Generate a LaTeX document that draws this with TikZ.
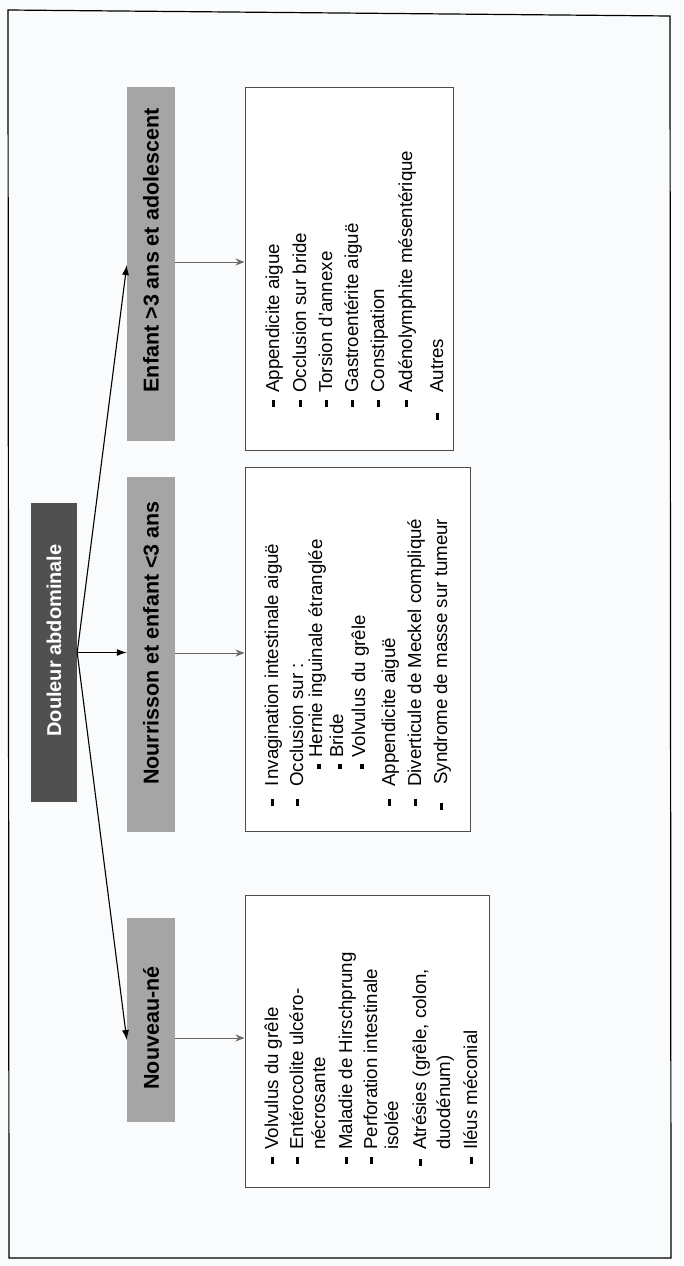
\documentclass[tikz,border=0pt]{standalone}
\usepackage{fontspec}
\setmainfont{Liberation Sans}
\usetikzlibrary{arrows.meta}
\definecolor{rootgray}{HTML}{505050}
\definecolor{catgray}{HTML}{A5A5A5}
\definecolor{bgcol}{HTML}{F9FBFC}
\newcommand{\mybul}[2]{\fill ({#1-7},{#2-3.5}) rectangle ({#1-4},{#2+3.5});}
\newcommand{\mysub}[2]{\fill ({#1-5.5},{#2-2.5}) rectangle ({#1-1.5},{#2+2.5});}
\begin{document}
\begin{tikzpicture}[x=1pt,y=-1pt,
  itm/.style={rotate=90,anchor=base west,inner sep=0pt,font=\fontsize{18.7}{22}\selectfont},
  rootbox/.style={fill=rootgray,text=white,inner sep=0pt,font=\bfseries\fontsize{20}{24}\selectfont},
  catbox/.style={fill=catgray,inner sep=0pt,minimum width=48pt,font=\bfseries\fontsize{21.5}{26}\selectfont},
  listbox/.style={draw=black!70,line width=1pt,fill=white,inner sep=0pt},
  arr/.style={draw=black,line width=1.1pt,-{Latex[length=10pt,width=7pt]}},
  arrg/.style={draw=black!60,line width=1pt,-{Stealth[length=9pt,width=7pt,fill=black!45]}}]
\useasboundingbox[fill=bgcol] (0,0) rectangle (683,1266);
% outer frame
\draw[line width=1.2pt] (8,10) -- (670,16) -- (671,1258) -- (9,1258) -- cycle;

% root
\node[rootbox,minimum width=46pt,minimum height=299pt] (R) at (54,652.5)
  {\rotatebox{90}{\hspace*{24pt}Douleur abdominale}};

% categories
\node[catbox,minimum height=354pt] (C3) at (151,264)
  {\rotatebox{90}{\hspace*{27pt}Enfant >3 ans et adolescent}};
\node[catbox,minimum height=355pt] (C2) at (151,654.5)
  {\rotatebox{90}{\hspace*{23pt}Nourrisson et enfant <3 ans}};
\node[catbox,minimum height=204pt] (C1) at (151,1020)
  {\rotatebox{90}{Nouveau-né\hspace*{16pt}}};

% list boxes
\node[listbox,minimum width=208pt,minimum height=363pt] (L3) at (349,268.5) {};
\node[listbox,minimum width=225pt,minimum height=364pt] (L2) at (357.5,649) {};
\node[listbox,minimum width=244pt,minimum height=292pt] (L1) at (367,1041) {};

% connectors from root
\coordinate (T3) at (125,265);
\coordinate (T1) at (125,1040);
\draw[arr] (R.east) -- (C3.west |- T3);
\draw[arr] (R.east) -- (C2.west |- R.east);
\draw[arr] (R.east) -- (C1.west |- T1);

% connectors to lists
\coordinate (A3) at (0,262);
\coordinate (A2) at (0,653);
\coordinate (A1) at (0,1038);
\draw[arrg] (C3.east |- A3) -- (L3.west |- A3);
\draw[arrg] (C2.east |- A2) -- (L2.west |- A2);
\draw[arrg] (C1.east |- A1) -- (L1.west |- A1);

% Enfant list
\node[itm] (e1) at (279,393) {Appendicite aigue};
\node[itm] (e2) at (306,393) {Occlusion sur bride};
\node[itm] (e3) at (332,393) {Torsion d'annexe};
\node[itm] (e4) at (358,393) {Gastroentérite aiguë};
\node[itm] (e5) at (384,393) {Constipation};
\node[itm] (e6) at (412,393) {Adénolymphite mésentérique};
\node[itm] (e7) at (443,393) {Autres};
\mybul{279}{403}\mybul{306}{403}\mybul{332}{403}\mybul{358}{403}
\mybul{384}{403}\mybul{412}{403}\mybul{443}{416}

% Nourrisson list
\node[itm] (n1) at (278,787) {I\kern2pt nvagination intestinale aiguë};
\node[itm] (n2) at (303,787) {Occlusion sur :};
\node[itm] (n3) at (322,758) {Hernie inguinale étranglée};
\node[itm] (n4) at (343,758) {Bride};
\node[itm] (n5) at (365,758) {Volvulus du grêle};
\node[itm] (n6) at (395,787) {Appendicite aiguë};
\node[itm] (n7) at (421,787) {Diverticule de Meckel compliqué};
\node[itm] (n8) at (447,785) {Syndrome de masse sur tumeur};
\mybul{278}{802}\mybul{303}{802}\mybul{395}{802}\mybul{421}{802}\mybul{447}{806}
\mysub{322}{766}\mysub{343}{766}\mysub{365}{766}

% Nouveau-ne list
\node[itm] (b1) at (278,1150) {Volvulus du grêle};
\node[itm] (b2) at (303,1150) {Entérocolite ulcéro-};
\node[itm] (b3) at (325,1150) {nécrosante};
\node[itm] (b4) at (352,1150) {Maladie de Hirschprung};
\node[itm] (b5) at (377,1150) {Perforation intestinale};
\node[itm] (b6) at (398,1150) {isolée};
\node[itm] (b7) at (426,1150) {Atrésies (grêle, colon,};
\node[itm] (b8) at (450,1150) {duodénum)};
\node[itm] (b9) at (477,1150) {Iléus méconial};
\mybul{278}{1160}\mybul{303}{1160}\mybul{352}{1160}\mybul{377}{1160}
\mybul{426}{1162}\mybul{477}{1160}
\end{tikzpicture}
\end{document}
